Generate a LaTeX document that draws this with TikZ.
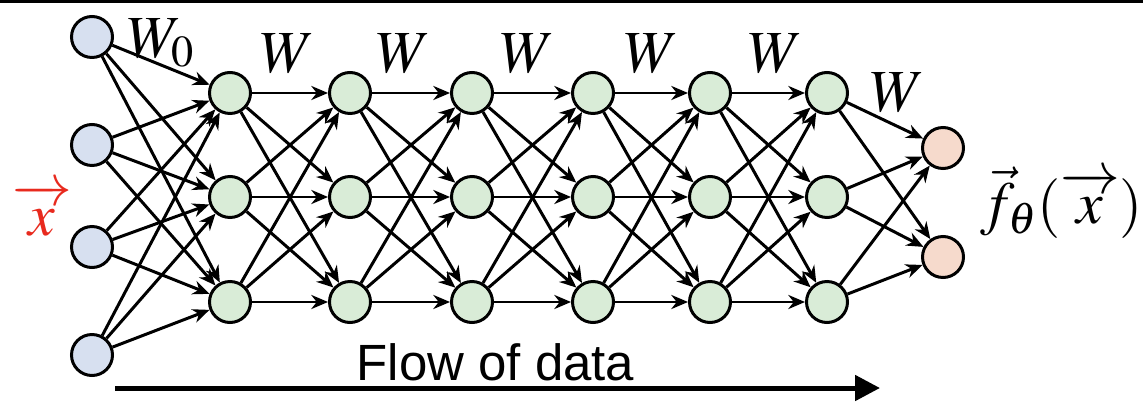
\documentclass[tikz,border=0pt]{standalone}
\usepackage{mathptmx}
\usepackage{fontspec}
\usepackage{tikz}
\usetikzlibrary{arrows.meta, positioning, calc}
\newfontfamily\flowfont{Liberation Sans}
\definecolor{inblue}{RGB}{215,224,240}
\definecolor{hidgreen}{RGB}{217,236,215}
\definecolor{outred}{RGB}{246,218,204}
\definecolor{xred}{RGB}{232,42,30}

\tikzset{
    neuron/.style={circle, draw, line width=1.7pt, minimum size=0.82cm, inner sep=0pt},
    edge/.style={line width=1.7pt, -{Stealth[length=9.5pt, width=8pt]}},
    wlabel/.style={font=\fontsize{34}{38}\selectfont, inner sep=0pt}
}

\begin{document}
\begin{tikzpicture}
    \useasboundingbox (0,0) rectangle (22.86,8.02);
    \draw[line width=0.06cm] (0,7.99) -- (22.86,7.99);

    % Ingresso
    \foreach \y [count=\i] in {7.28,5.12,3.08,0.92}
        \node[neuron, fill=inblue] (in\i) at (1.84,\y) {};

    % Strati nascosti
    \foreach \x [count=\l] in {4.6,7.0,9.44,11.86,14.2,16.54}
        \foreach \y [count=\i] in {6.16,4.08,1.98}
            \node[neuron, fill=hidgreen] (h\l-\i) at (\x,\y) {};

    % Uscita
    \node[neuron, fill=outred] (out1) at (18.86,5.06) {};
    \node[neuron, fill=outred] (out2) at (18.86,2.88) {};

    % Pesi
    \foreach \i in {1,...,4}
        \foreach \j in {1,2,3}
            \draw[edge] (in\i) -- (h1-\j);
    \foreach \l/\m in {1/2,2/3,3/4,4/5,5/6}
        \foreach \i in {1,2,3}
            \foreach \j in {1,2,3}
                \draw[edge] (h\l-\i) -- (h\m-\j);
    \foreach \i in {1,2,3}
        \foreach \j in {1,2}
            \draw[edge] (h6-\i) -- (out\j);

    % Etichette
    \node[wlabel] (w0) at (3.22,7.16) {$W_0$};
    \foreach \x [count=\i] in {5.76,8.08,10.56,13.04,15.52}
        \node[wlabel] (w\i) at (\x,6.94) {$W$};
    \node[wlabel] (w6) at (17.96,6.16) {$W$};

    \node[wlabel, text=xred] (xin) at (0.84,3.82) {$\overrightarrow{\,x\vphantom{t}\,}$};
    \node[wlabel] (fout) at (21.24,3.96) {$\vec{f}_{\theta}(\overrightarrow{\,x\vphantom{t}\,})$};

    % Flusso
    \node[font=\flowfont\fontsize{29}{32}\selectfont, anchor=base] (flow) at (9.91,0.42) {Flow of data};
    \coordinate (flowstart) at (2.3,0.26);
    \coordinate (flowend) at (17.6,0.26);
    \draw[line width=0.1cm, -{Triangle[length=0.5cm, width=0.5cm]}] (flowstart) -- (flowend);
\end{tikzpicture}
\end{document}
